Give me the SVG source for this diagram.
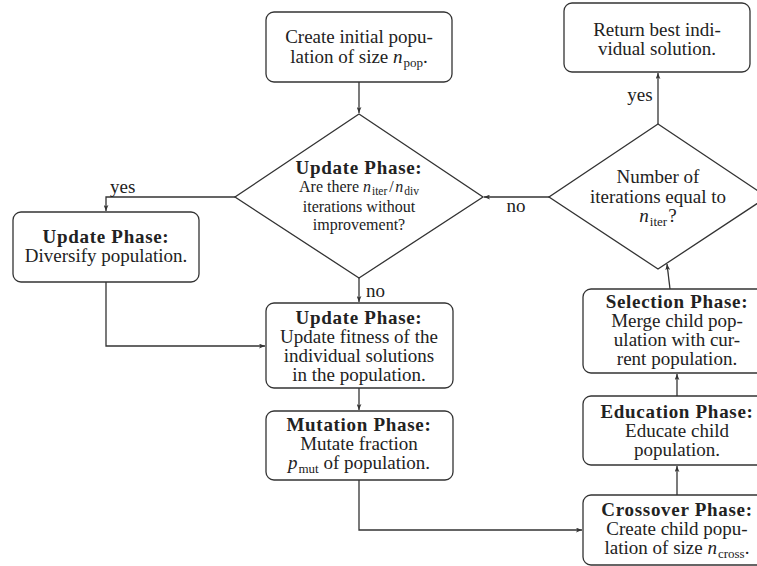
<svg xmlns="http://www.w3.org/2000/svg" width="757" height="566" viewBox="0 0 757 566">
<defs>
<marker id="arr" viewBox="0 0 10 8" refX="10" refY="4" markerWidth="6" markerHeight="5" orient="auto" markerUnits="userSpaceOnUse">
<path d="M0,0 L10,4 L0,8 L2.5,4 Z" fill="#333"/>
</marker>
<style>
.box{fill:#fff;stroke:#333;stroke-width:1.3}
.dia{fill:#fff;stroke:#333;stroke-width:1.3}
.con{fill:none;stroke:#333;stroke-width:1.3}
text{font-family:"Liberation Serif","Times New Roman",serif;font-size:19px;fill:#222;text-anchor:middle}
.b{font-weight:bold;letter-spacing:0.7px}
.s{font-size:16px}
.i{font-style:italic}
.sub{font-size:13px}
.ssub{font-size:11.5px}
.lab{text-anchor:start}
</style>
</defs>
<g id="connectors">
<path class="con" d="M359,82 L359,113" marker-end="url(#arr)"/>
<path class="con" d="M235,197 L106,197 L106,211" marker-end="url(#arr)"/>
<path class="con" d="M359,278 L359,302" marker-end="url(#arr)"/>
<path class="con" d="M106,282 L106,346 L265,346" marker-end="url(#arr)"/>
<path class="con" d="M359,388 L359,410" marker-end="url(#arr)"/>
<path class="con" d="M359,480 L359,530 L582,530" marker-end="url(#arr)"/>
<path class="con" d="M677,495 L677,466" marker-end="url(#arr)"/>
<path class="con" d="M677,396 L677,374" marker-end="url(#arr)"/>
<path class="con" d="M670,289 L667,264" marker-end="url(#arr)"/>
<path class="con" d="M549,197 L484,197" marker-end="url(#arr)"/>
<path class="con" d="M658,124 L658,73" marker-end="url(#arr)"/>
<text class="lab" x="110" y="193">yes</text>
<text class="lab" x="366" y="297">no</text>
<text x="516" y="212">no</text>
<text x="640" y="101">yes</text>
</g>
<g id="start">
<rect class="box" x="266" y="12" width="186" height="70" rx="8"/>
<text x="359" y="43">Create initial popu-</text>
<text x="359" y="63">lation of size <tspan class="i">n</tspan><tspan class="sub" dx="1" dy="4">pop</tspan><tspan dy="-4">.</tspan></text>
</g>
<g id="return">
<rect class="box" x="564" y="3" width="186" height="69" rx="8"/>
<text x="657" y="36">Return best indi-</text>
<text x="657" y="55">vidual solution.</text>
</g>
<g id="update-check">
<polygon class="dia" points="359,114 483,197 359,278 235,197"/>
<text class="b" x="359" y="174">Update Phase:</text>
<text class="s" x="359" y="192">Are there <tspan class="i">n</tspan><tspan class="ssub" dx="1" dy="2.5">iter</tspan><tspan dx="2" dy="-2.5">/</tspan><tspan class="i" dx="1.5">n</tspan><tspan class="ssub" dx="1" dy="2.5">div</tspan></text>
<text class="s" x="359" y="212">iterations without</text>
<text class="s" x="359" y="230">improvement?</text>
</g>
<g id="iter-check">
<polygon class="dia" points="658,124 767,197 658,269 549,197"/>
<text x="658" y="183">Number of</text>
<text x="658" y="203">iterations equal to</text>
<text x="658" y="222"><tspan class="i">n</tspan><tspan class="sub" dx="1" dy="4">iter</tspan><tspan dx="1" dy="-4">?</tspan></text>
</g>
<g id="diversify">
<rect class="box" x="13" y="212" width="186" height="70" rx="8"/>
<text class="b" x="106" y="243">Update Phase:</text>
<text x="106" y="262">Diversify population.</text>
</g>
<g id="update-fitness">
<rect class="box" x="266" y="303" width="187" height="85" rx="8"/>
<text class="b" x="359" y="324">Update Phase:</text>
<text x="359" y="343">Update fitness of the</text>
<text x="359" y="362">individual solutions</text>
<text x="359" y="381">in the population.</text>
</g>
<g id="mutation">
<rect class="box" x="266" y="411" width="187" height="69" rx="8"/>
<text class="b" x="359" y="431">Mutation Phase:</text>
<text x="359" y="450">Mutate fraction</text>
<text x="359" y="469"><tspan class="i">p</tspan><tspan class="sub" dx="1" dy="4">mut</tspan><tspan dy="-4"> of population.</tspan></text>
</g>
<g id="crossover">
<rect class="box" x="583" y="495" width="188" height="70" rx="8"/>
<text class="b" x="677" y="516">Crossover Phase:</text>
<text x="677" y="535">Create child popu-</text>
<text x="677" y="554">lation of size <tspan class="i">n</tspan><tspan class="sub" dx="1" dy="4">cross</tspan><tspan dy="-4">.</tspan></text>
</g>
<g id="education">
<rect class="box" x="583" y="396" width="188" height="69" rx="8"/>
<text class="b" x="677" y="418">Education Phase:</text>
<text x="677" y="437">Educate child</text>
<text x="677" y="456">population.</text>
</g>
<g id="selection">
<rect class="box" x="583" y="289" width="188" height="84" rx="8"/>
<text class="b" x="677" y="308">Selection Phase:</text>
<text x="677" y="327">Merge child pop-</text>
<text x="677" y="346">ulation with cur-</text>
<text x="677" y="365">rent population.</text>
</g>
</svg>
